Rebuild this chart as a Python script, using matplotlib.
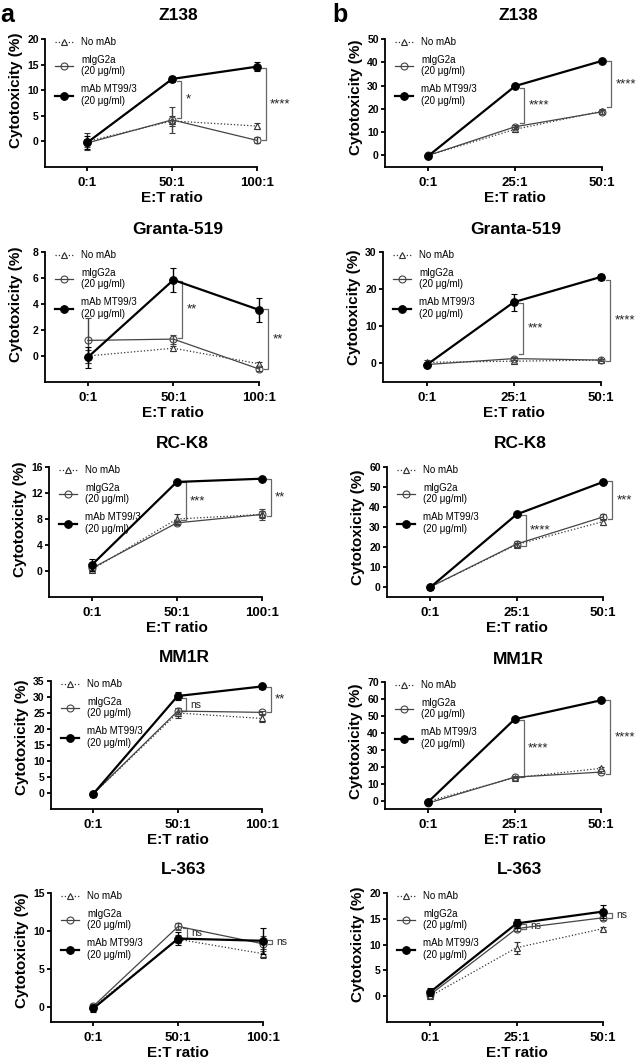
import matplotlib
matplotlib.use('Agg')
import matplotlib.pyplot as plt
from matplotlib.transforms import blended_transform_factory

plt.rcParams['font.family'] = ['Liberation Sans', 'DejaVu Sans']

# ---------------- data ----------------
series_labels = ['No mAb', 'mIgG2a\n(20 μg/ml)', 'mAb MT99/3\n(20 μg/ml)']
ratios_a = ['0:1', '50:1', '100:1']
ratios_b = ['0:1', '25:1', '50:1']
cell_lines = ['Z138', 'Granta-519', 'RC-K8', 'MM1R', 'L-363']

# rows: No mAb, mIgG2a, mAb MT99/3 ; columns: E:T ratios
z138_a_mean = [[0.0, 4.0, 3.0], [-0.3, 4.2, 0.2], [-0.2, 12.2, 14.6]]
z138_a_err = [[1.6, 1.0, 0.6], [0.8, 2.5, 0.6], [1.3, 0.6, 0.9]]
z138_b_mean = [[0.0, 11.2, 19.0], [0.0, 12.3, 18.7], [-0.2, 29.8, 40.6]]
z138_b_err = [[0.3, 1.0, 1.0], [0.3, 0.8, 0.8], [0.3, 0.3, 0.4]]

granta_a_mean = [[0.0, 0.6, -0.6], [1.2, 1.3, -1.0], [-0.1, 5.85, 3.55]]
granta_a_err = [[0.5, 0.2, 0.15], [1.75, 0.35, 0.15], [0.8, 0.95, 0.95]]
granta_b_mean = [[0.3, 0.6, 0.9], [-0.3, 1.3, 0.9], [-0.4, 16.5, 23.3]]
granta_b_err = [[0.6, 0.4, 0.2], [0.4, 0.4, 0.3], [0.5, 2.3, 0.8]]

rck8_a_mean = [[0.2, 8.0, 8.7], [0.4, 7.4, 8.7], [0.9, 13.7, 14.2]]
rck8_a_err = [[0.4, 0.8, 0.5], [0.3, 0.3, 0.9], [0.9, 0.15, 0.15]]
rck8_b_mean = [[0.0, 21.2, 32.7], [0.0, 21.5, 35.0], [-0.2, 36.3, 52.5]]
rck8_b_err = [[0.3, 1.0, 1.5], [0.3, 1.5, 1.5], [0.3, 0.5, 0.5]]

mm1r_a_mean = [[-0.3, 25.0, 23.3], [-0.3, 25.6, 25.2], [-0.3, 30.3, 33.3]]
mm1r_a_err = [[0.3, 1.6, 1.0], [0.3, 1.0, 0.4], [0.3, 1.3, 0.8]]
mm1r_b_mean = [[-0.5, 13.5, 19.0], [-1.5, 13.8, 16.8], [-0.8, 48.0, 59.2]]
mm1r_b_err = [[0.5, 0.5, 1.0], [0.5, 0.6, 0.8], [0.3, 0.4, 0.4]]

l363_a_mean = [[0.0, 8.9, 7.0], [0.1, 10.6, 8.3], [-0.2, 9.0, 8.7]]
l363_a_err = [[0.4, 0.5, 0.6], [0.3, 0.5, 1.0], [0.5, 0.8, 1.7]]
l363_b_mean = [[0.0, 9.4, 13.1], [0.3, 13.1, 15.2], [0.8, 14.1, 16.4]]
l363_b_err = [[0.3, 1.2, 0.3], [0.3, 0.4, 0.4], [0.8, 0.8, 1.3]]

# significance brackets: (x index, low, high, label)
z138_a_sig = [(1, 4.6, 11.8, '*'), (2, 0.3, 14.3, '****')]
z138_b_sig = [(1, 13.7, 29.1, '****'), (2, 20.6, 40.6, '****')]
granta_a_sig = [(1, 1.4, 5.8, '**'), (2, -1.0, 3.6, '**')]
granta_b_sig = [(1, 2.5, 16.2, '***'), (2, 0.6, 22.5, '****')]
rck8_a_sig = [(1, 7.8, 13.7, '***'), (2, 8.5, 14.2, '**')]
rck8_b_sig = [(1, 20.5, 35.8, '****'), (2, 34.2, 52.8, '***')]
mm1r_a_sig = [(1, 25.7, 29.6, 'ns'), (2, 25.4, 33.2, '**')]
mm1r_b_sig = [(1, 14.1, 47.8, '****'), (2, 15.7, 59.2, '****')]
l363_a_sig = [(1, 9.0, 10.4, 'ns'), (2, 8.3, 8.8, 'ns')]
l363_b_sig = [(1, 13.1, 14.0, 'ns'), (2, 15.1, 16.2, 'ns')]

# y axis ticks (label values) and lower limits
z138_a_yt, z138_a_ymin = [0, 5, 10, 15, 20], -5
z138_b_yt, z138_b_ymin = [0, 10, 20, 30, 40, 50], -5
granta_a_yt, granta_a_ymin = [0, 2, 4, 6, 8], -2
granta_b_yt, granta_b_ymin = [0, 10, 20, 30], -5
rck8_a_yt, rck8_a_ymin = [0, 4, 8, 12, 16], -4
rck8_b_yt, rck8_b_ymin = [0, 10, 20, 30, 40, 50, 60], -5
mm1r_a_yt, mm1r_a_ymin = [0, 5, 10, 15, 20, 25, 30, 35], -5
mm1r_b_yt, mm1r_b_ymin = [0, 10, 20, 30, 40, 50, 60, 70], -5
l363_a_yt, l363_a_ymin = [0, 5, 10, 15], -2
l363_b_yt, l363_b_ymin = [0, 5, 10, 15, 20], -5

panels_a = [
    (z138_a_mean, z138_a_err, z138_a_sig, z138_a_yt, z138_a_ymin),
    (granta_a_mean, granta_a_err, granta_a_sig, granta_a_yt, granta_a_ymin),
    (rck8_a_mean, rck8_a_err, rck8_a_sig, rck8_a_yt, rck8_a_ymin),
    (mm1r_a_mean, mm1r_a_err, mm1r_a_sig, mm1r_a_yt, mm1r_a_ymin),
    (l363_a_mean, l363_a_err, l363_a_sig, l363_a_yt, l363_a_ymin),
]
panels_b = [
    (z138_b_mean, z138_b_err, z138_b_sig, z138_b_yt, z138_b_ymin),
    (granta_b_mean, granta_b_err, granta_b_sig, granta_b_yt, granta_b_ymin),
    (rck8_b_mean, rck8_b_err, rck8_b_sig, rck8_b_yt, rck8_b_ymin),
    (mm1r_b_mean, mm1r_b_err, mm1r_b_sig, mm1r_b_yt, mm1r_b_ymin),
    (l363_b_mean, l363_b_err, l363_b_sig, l363_b_yt, l363_b_ymin),
]

# ---------------- layout (pixel boxes: left, right, top, bottom) ----------------
W, H = 642, 1062
boxes_a = [(45, 257, 39, 167), (45, 259, 252, 382), (49, 262, 467, 597),
           (51, 262, 681, 809), (51, 263, 893, 1022)]
boxes_b = [(385, 602, 39, 167), (383, 601, 252, 382), (387, 603, 467, 597),
           (385, 601, 682, 809), (387, 603, 893, 1022)]

styles = [
    dict(color='#333333', ls=':', lw=0.9, marker='^', ms=5, mfc='white', mec='#333333', mew=0.8),
    dict(color='#444444', ls='-', lw=0.9, marker='o', ms=5, mfc='none', mec='#444444', mew=0.8),
    dict(color='black', ls='-', lw=1.6, marker='o', ms=5.5, mfc='black', mec='black', mew=0.8),
]

fig = plt.figure(figsize=(W / 100, H / 100), dpi=100)


def draw_panel(box, title, ratios, mean, err, sig, yticks, ymin):
    L, R, T, B = box
    ax = fig.add_axes([L / W, 1 - B / H, (R - L) / W, (B - T) / H])
    w, h = R - L, B - T
    x = list(range(len(ratios)))
    handles = []
    for k in range(3):
        st = styles[k]
        cont = ax.errorbar(x, mean[k], yerr=err[k], color=st['color'], ls=st['ls'],
                           lw=st['lw'], marker=st['marker'], ms=st['ms'], mfc=st['mfc'],
                           mec=st['mec'], mew=st['mew'], ecolor=st['color'],
                           elinewidth=1.0, capsize=2.2, capthick=1.0, zorder=3 + k)
        for child in cont.get_children():
            child.set_clip_on(False)
        handles.append(cont[0])
    ax.set_xlim(-0.5, len(ratios) - 1)
    ax.set_ylim(ymin, yticks[-1])
    ax.set_xticks(x)
    ax.set_xticklabels(ratios, fontsize=9.5, fontweight='bold')
    ax.set_yticks(yticks)
    ax.set_yticklabels([str(v) for v in yticks], fontsize=7.5, fontweight='bold')
    for s in ['top', 'right']:
        ax.spines[s].set_visible(False)
    for s in ['left', 'bottom']:
        ax.spines[s].set_linewidth(1.3)
    ax.tick_params(axis='both', direction='out', length=3, width=1.3)
    ax.tick_params(axis='x', pad=4.5)
    ax.tick_params(axis='y', pad=1.5)

    ax.set_ylabel('Cytotoxicity (%)', fontsize=11, fontweight='bold', va='center')
    ax.yaxis.set_label_coords(-29 / w, yticks[-1] / 2,
                              transform=blended_transform_factory(ax.transAxes, ax.transData))
    ax.set_xlabel('E:T ratio', fontsize=11, fontweight='bold', va='center')
    ax.xaxis.set_label_coords(1, -31 / h,
                              transform=blended_transform_factory(ax.transData, ax.transAxes))

    ax.legend(handles=handles, labels=series_labels, loc='upper left',
              bbox_to_anchor=(10 / w, 1 + 2 / h), frameon=False, fontsize=7,
              handlelength=1.9, handletextpad=0.8, labelspacing=0.8,
              borderpad=0, borderaxespad=0)

    dx, cap = 0.105, 0.05
    for xi, lo, hi, lab in sig:
        xv = xi + dx
        ax.plot([xv - cap, xv, xv, xv - cap], [lo, lo, hi, hi], color='#666666',
                lw=0.9, clip_on=False, zorder=2)
        ax.text(xv + 0.05, (lo + hi) / 2, lab, fontsize=7.5 if lab == 'ns' else 9.5,
                ha='left', va='center', color='#222222', clip_on=False)

    fig.text((L + 133) / W, 1 - (T - 23) / H, title, fontsize=12.5, fontweight='bold',
             ha='center', va='center')
    return ax


for i in range(5):
    ma, ea, sa, yta, ymina = panels_a[i]
    draw_panel(boxes_a[i], cell_lines[i], ratios_a, ma, ea, sa, yta, ymina)
    mb, eb, sb, ytb, yminb = panels_b[i]
    draw_panel(boxes_b[i], cell_lines[i], ratios_b, mb, eb, sb, ytb, yminb)

fig.text(7 / W, 1 - 15 / H, 'a', fontsize=18, fontweight='bold', ha='center', va='center')
fig.text(340 / W, 1 - 15 / H, 'b', fontsize=18, fontweight='bold', ha='center', va='center')

fig.savefig('out.png', dpi=100)
